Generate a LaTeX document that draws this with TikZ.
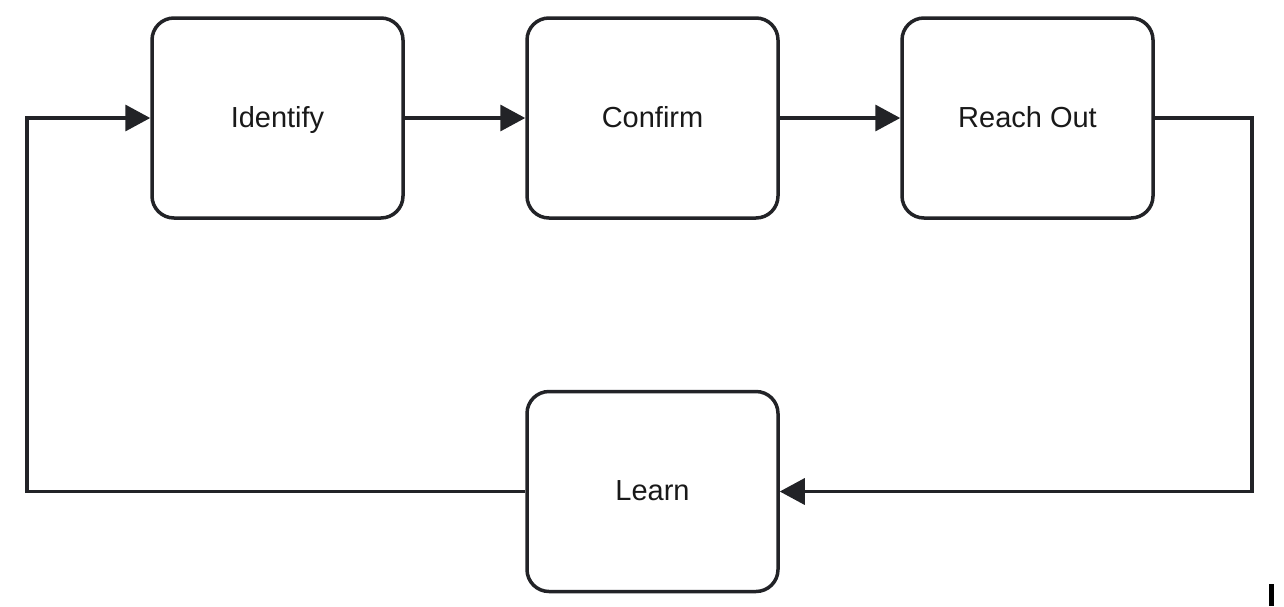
\documentclass[tikz,border=0pt]{standalone}
\usepackage{fontspec}
\setmainfont{Liberation Sans}
\usetikzlibrary{arrows.meta}
\definecolor{ink}{HTML}{222327}
\begin{document}
\begin{tikzpicture}[x=1pt,y=-1pt,
  stepbox/.style={draw=ink,line width=3.5pt,rounded corners=22pt,minimum width=251pt,minimum height=200pt,inner sep=0pt,text height=24pt,text depth=6pt,font=\fontsize{29}{34}\selectfont,text=black!90},
  conn/.style={draw=ink,line width=3.5pt,-{Triangle[length=25pt,width=26pt]}}]
\useasboundingbox (0,0) rectangle (1284,606);
\node[stepbox] (id) at (277.5,118) {Identify};
\node[stepbox] (co) at (652.5,118) {Confirm};
\node[stepbox] (ro) at (1027.5,118) {Reach Out};
\node[stepbox] (le) at (652.5,491.5) {Learn};
\coordinate (r1) at (1252,118);
\coordinate (r2) at (1252,491.5);
\coordinate (l1) at (27,491.5);
\coordinate (l2) at (27,118);
\draw[conn] (id.east) -- (co.west);
\draw[conn] (co.east) -- (ro.west);
\draw[conn] (ro.east) -- (r1) -- (r2) -- (le.east);
\draw[conn] (le.west) -- (l1) -- (l2) -- (id.west);
\fill[black] (1269,584) rectangle (1274,606);
\end{tikzpicture}
\end{document}
